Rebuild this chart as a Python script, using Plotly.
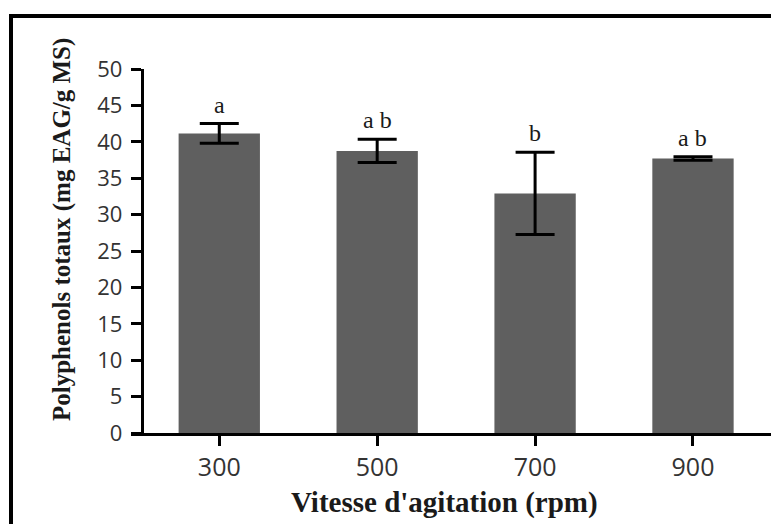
import plotly.graph_objects as go

categories = ["300", "500", "700", "900"]
means = [41.15, 38.75, 32.9, 37.7]
errors = [1.35, 1.6, 5.65, 0.25]
letters = ["a", "a b", "b", "a b"]
y_ticks = [0, 5, 10, 15, 20, 25, 30, 35, 40, 45, 50]

W, H = 771, 524
L, R, T, B = 131, 0, 69, 91
PW, PH = W - L - R, H - T - B

def px(x):
    return (x - L) / PW

def py(y):
    return (H - B - y) / PH

fig = go.Figure()
fig.add_trace(go.Bar(
    x=categories, y=means, width=0.515,
    marker=dict(color="#5f5f5f", line=dict(width=0)),
    error_y=dict(type="data", array=errors, visible=True,
                 color="black", thickness=3, width=19.5),
))

for i, (m, e, t) in enumerate(zip(means, errors, letters)):
    fig.add_annotation(x=i, y=m + e, text=t, showarrow=False,
                       yanchor="bottom", yshift=4,
                       font=dict(family="Liberation Serif", size=24, color="#1a1a1a"))

fig.add_annotation(xref="paper", yref="paper", x=px(444), y=py(502),
                   text="<b>Vitesse d'agitation (rpm)</b>", showarrow=False,
                   xanchor="center", yanchor="middle",
                   font=dict(family="Liberation Serif", size=29, color="#1a1a1a"))
fig.add_annotation(xref="paper", yref="paper", x=px(62), y=py(230),
                   text="<b>Polyphenols totaux (mg EAG/g MS)</b>", showarrow=False,
                   textangle=-90, xanchor="center", yanchor="middle",
                   font=dict(family="Liberation Serif", size=25, color="#1a1a1a"))

# outer frame
fig.add_shape(type="rect", xref="paper", yref="paper",
              x0=px(11), x1=px(W + 20), y0=py(H + 20), y1=py(16),
              line=dict(color="black", width=4), fillcolor="rgba(0,0,0,0)",
              layer="above")

fig.update_layout(
    width=W, height=H,
    margin=dict(l=L, r=R, t=T, b=B, pad=0),
    paper_bgcolor="white", plot_bgcolor="white",
    showlegend=False,
    xaxis=dict(type="category", range=[-0.559, 3.494], showgrid=False,
               showline=True, linecolor="black", linewidth=3,
               ticks="outside", ticklen=10, tickwidth=2.5, tickcolor="black",
               ticklabelstandoff=0,
               tickfont=dict(family="Open Sans", size=25, color="#333333"),
               zeroline=False),
    yaxis=dict(range=[0, 50], tickvals=y_ticks, showgrid=False,
               anchor="free", position=px(141.7),
               showline=True, linecolor="black", linewidth=3,
               ticks="outside", ticklen=10, tickwidth=2.5, tickcolor="black",
               ticklabelstandoff=4,
               tickfont=dict(family="Open Sans", size=22, color="#333333"),
               zeroline=False),
)

fig.write_html("out.html", config={"displayModeBar": False},
               post_script="document.body.style.margin='0';document.body.style.overflow='hidden';")
